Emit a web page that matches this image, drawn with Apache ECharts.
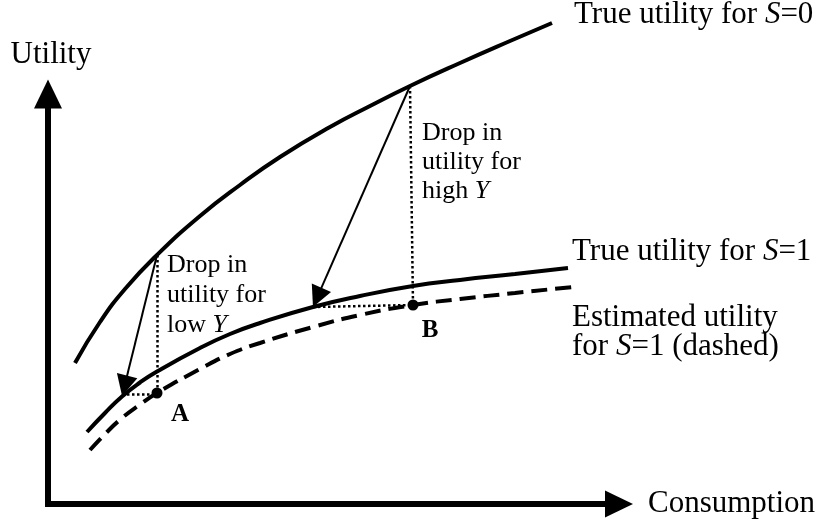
<!DOCTYPE html>
<html>
<head>
<meta charset="utf-8">
<script src="https://cdn.jsdelivr.net/npm/echarts@6/dist/echarts.min.js"></script>
<style>html,body{margin:0;padding:0;background:#fff}#c{width:824px;height:523px}</style>
</head>
<body>
<div id="c"></div>
<script>
// Values (consumption, utility) in arbitrary units
const trueUtilityS0 = [[27,141],[52,182],[77,215],[109,249],[152,288],[192,319],[232,347],[282,377],[322,398],[362,418],[412,441],[462,463],[504,481]];
const trueUtilityS1 = [[39,72],[57,91],[74,107.5],[92,121.5],[109,132.5],[152,156],[182,170],[212,181],[265,197],[312,208],[365,218],[412,224],[467,230],[520,236]];
const estimatedUtilityS1 = [[42,54],[57,70],[74,86],[92,99.5],[109,111],[152,135],[182,150],[212,161],[265,177],[312,189],[365,199],[412,205],[467,211],[525,217]];
const pointA = [109,111];
const pointB = [365,199];
const dropArrows = [
  [[109,249],[76.6,118.2]],   // low Y
  [[362,418],[269.2,206.6]]   // high Y
];
const dottedGuides = [
  [[109,249],[109,111]],
  [[74,110],[109,110]],
  [[362,418],[365,199]],
  [[265,197],[365,199]]
];
const xMax = 571, yMax = 410;

const FF = '"Liberation Serif", "Times New Roman", serif';
function tok(size, italic, bold){
  return {fontSize:size, fontFamily:FF, fontStyle: italic?'italic':'normal', fontWeight: bold?'bold':'normal', fill:'#000'};
}
function txt(x, y, text, size, align, bold){
  return {type:'text', x:x, y:y, silent:true, z:100,
    style:{text:text, align:align||'left', verticalAlign:'middle',
      fontSize:size, fontFamily:FF, fontWeight: bold?'bold':'normal', fill:'#000',
      rich:{n:tok(size,false,bold), i:tok(size,true,bold)}}};
}

const chart = echarts.init(document.getElementById('c'), null, {renderer:'canvas'});
const axisCommon = {
  type:'value', min:0, splitLine:{show:false}, axisTick:{show:false}, axisLabel:{show:false}
};
const curveCommon = {type:'line', smooth:0.5, showSymbol:false, symbol:'none', silent:true, clip:false};
chart.setOption({
  backgroundColor:'#fff',
  animation:false,
  grid:{left:48, top:94, right:205, bottom:19},
  xAxis: Object.assign({}, axisCommon, {
    max:xMax, name:'Consumption', nameLocation:'end', nameGap:29,
    nameTextStyle:{fontSize:31, fontFamily:FF, color:'#000', align:'left', verticalAlign:'middle'},
    axisLine:{show:true, onZero:false, symbol:['none','triangle'], symbolSize:[27,28], lineStyle:{color:'#000', width:6, cap:'square'}}
  }),
  yAxis: Object.assign({}, axisCommon, {
    max:yMax, name:'Utility', nameLocation:'end', nameGap:24,
    nameTextStyle:{fontSize:31, fontFamily:FF, color:'#000', align:'center', verticalAlign:'bottom', padding:[0,0,0,6]},
    axisLine:{show:true, onZero:false, symbol:['none','triangle'], symbolSize:[28,29], lineStyle:{color:'#000', width:6, cap:'square'}}
  }),
  series:[
    Object.assign({}, curveCommon, {data:trueUtilityS0, lineStyle:{color:'#000', width:4}}),
    Object.assign({}, curveCommon, {data:trueUtilityS1, lineStyle:{color:'#000', width:4}}),
    Object.assign({}, curveCommon, {data:estimatedUtilityS1, lineStyle:{color:'#000', width:4, type:[16,8]}}),
    {type:'lines', coordinateSystem:'cartesian2d', silent:true, clip:false,
      data: dottedGuides.map(c => ({coords:c})),
      lineStyle:{color:'#000', width:2.5, type:[2.5,2.5], opacity:1}},
    {type:'lines', coordinateSystem:'cartesian2d', silent:true, clip:false,
      symbol:['none','triangle'], symbolSize:21,
      data: dropArrows.map(c => ({coords:c})),
      lineStyle:{color:'#000', width:2, opacity:1}},
    {type:'scatter', data:[pointA, pointB], symbol:'circle', symbolSize:11, silent:true, clip:false,
      itemStyle:{color:'#000', opacity:1}}
  ],
  graphic:[
    txt(574, 14.5, '{n|True utility for }{i|S}{n|=0}', 31),
    txt(572, 251.5, '{n|True utility for }{i|S}{n|=1}', 31),
    txt(572, 317.5, '{n|Estimated utility}', 31),
    txt(572, 346.5, '{n|for }{i|S}{n|=1 (dashed)}', 31),
    txt(422, 133, '{n|Drop in}', 26),
    txt(422, 162, '{n|utility for}', 26),
    txt(422, 191, '{n|high }{i|Y}', 26),
    txt(167, 265, '{n|Drop in}', 26),
    txt(167, 295.5, '{n|utility for}', 26),
    txt(167, 325.5, '{n|low }{i|Y}', 26),
    txt(180, 415, '{n|A}', 25, 'center', true),
    txt(430, 330.5, '{n|B}', 25, 'center', true)
  ]
});
</script>
</body>
</html>
